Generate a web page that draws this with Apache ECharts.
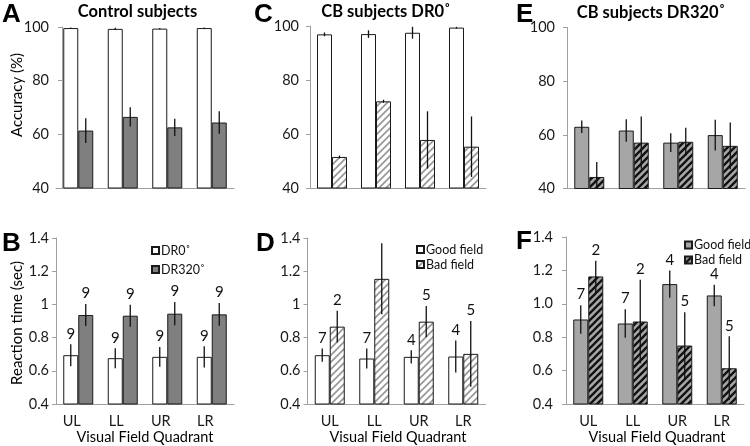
<!DOCTYPE html>
<html><head><meta charset="utf-8">
<script src="https://cdn.jsdelivr.net/npm/echarts@6/dist/echarts.min.js"></script>
<style>html,body{margin:0;padding:0;background:#fff}#c{width:750px;height:446px}</style>
</head><body><div id="c"></div><script>
// ---------- data ----------
const categories = ['UL', 'LL', 'UR', 'LR'];
// Panel A: control subjects accuracy (%)
const accCtrlDR0 = [99.6, 99.3, 99.4, 99.6];
const accCtrlDR0Err = [0.2, 0.4, 0.2, 0.2];
const accCtrlDR320 = [61.4, 66.5, 62.6, 64.4];
const accCtrlDR320Err = [4.6, 3.6, 3.2, 4.2];
// Panel C: CB subjects DR0 accuracy (%)
const accCbDR0Good = [96.9, 97.0, 97.5, 99.4];
const accCbDR0GoodErr = [0.7, 1.4, 2.2, 0.3];
const accCbDR0Bad = [51.5, 72.1, 57.8, 55.3];
const accCbDR0BadErr = [0.5, 0.6, 10.6, 11.2];
// Panel E: CB subjects DR320 accuracy (%)
const accCbDR320Good = [63.0, 61.6, 57.1, 59.9];
const accCbDR320GoodErr = [2.3, 4.2, 3.5, 5.7];
const accCbDR320Bad = [44.3, 57.1, 57.4, 55.9];
const accCbDR320BadErr = [5.6, 9.7, 5.2, 8.7];
// Panel B: control reaction time (sec)
const rtCtrlDR0 = [0.694, 0.676, 0.684, 0.684];
const rtCtrlDR0Err = [0.066, 0.06, 0.06, 0.064];
const rtCtrlDR320 = [0.936, 0.932, 0.944, 0.94];
const rtCtrlDR320Err = [0.066, 0.066, 0.07, 0.068];
const nCtrlDR0 = [9, 9, 9, 9];
const nCtrlDR320 = [9, 9, 9, 9];
// Panel D: CB DR0 reaction time (sec)
const rtCbDR0Good = [0.694, 0.674, 0.684, 0.686];
const rtCbDR0GoodErr = [0.04, 0.06, 0.04, 0.096];
const rtCbDR0Bad = [0.866, 1.154, 0.896, 0.702];
const rtCbDR0BadErr = [0.096, 0.214, 0.094, 0.198];
// Panel F: CB DR320 reaction time (sec)
const rtCbDR320Good = [0.906, 0.882, 1.118, 1.05];
const rtCbDR320GoodErr = [0.086, 0.086, 0.082, 0.064];
const rtCbDR320Bad = [1.164, 0.894, 0.75, 0.614];
const rtCbDR320BadErr = [0.094, 0.25, 0.2, 0.192];
const nCbGood = [7, 7, 4, 4];
const nCbBad = [2, 2, 5, 5];
const accTicks = [40, 100, 20];
const rtTicks = [0.4, 1.4, 0.2];

// ---------- styles ----------
const FONT = 'Lato';
function hatch(bg, fg, s, lw) {
  const c = document.createElement('canvas');
  c.width = s; c.height = s;
  const g = c.getContext('2d');
  g.fillStyle = bg; g.fillRect(0, 0, s, s);
  g.strokeStyle = fg; g.lineWidth = lw; g.lineCap = 'square';
  g.beginPath();
  g.moveTo(0, s); g.lineTo(s, 0);
  g.moveTo(-s / 2, s / 2); g.lineTo(s / 2, -s / 2);
  g.moveTo(s / 2, s * 1.5); g.lineTo(s * 1.5, s / 2);
  g.stroke();
  return c;
}
const WHITE = { color: '#ffffff', borderColor: '#1a1a1a', borderWidth: 1 };
const DARK = { color: '#7f7f7f', borderColor: '#1a1a1a', borderWidth: 1 };
const LIGHT = { color: '#a6a6a6', borderColor: '#1a1a1a', borderWidth: 1 };
const HATCH_LIGHT = { color: { image: hatch('#ffffff', '#9a9a9a', 7, 1.8), repeat: 'repeat' }, borderColor: '#1a1a1a', borderWidth: 1 };
const HATCH_DARK = { color: { image: hatch('#a6a6a6', '#111111', 7, 2.3), repeat: 'repeat' }, borderColor: '#1a1a1a', borderWidth: 1 };

const grids = [
  { left: 56, top: 27, width: 178, height: 161 },     // A
  { left: 310, top: 26, width: 176, height: 162 },    // C
  { left: 567, top: 27.5, width: 178, height: 161 },  // E
  { left: 56, top: 238, width: 178, height: 166 },    // B
  { left: 307.5, top: 238, width: 178, height: 166 }, // D
  { left: 566, top: 237, width: 178, height: 167 }    // F
];
const yOffsets = [-6, 0, 0, 0, 0, 0];
const yMargins = [13, 11, 12, 7, 7, 13];

const xAxes = grids.map((g, i) => ({
  type: 'category', gridIndex: i, data: categories,
  axisLine: { show: true, lineStyle: { color: '#a0a0a0', width: 1 } },
  axisTick: { show: false },
  axisLabel: {
    show: i >= 3, fontFamily: FONT, fontSize: 14.5, color: '#1a1a1a', margin: 10,
    padding: i === 3 ? [0, 13, 0, 0] : 0
  }
}));
function fmtRt(v) { return String(Math.round(v * 10) / 10); }
function fmtRtFixed(v) { return (Math.round(v * 10) / 10).toFixed(1); }
const yAxes = grids.map((g, i) => {
  const t = i < 3 ? accTicks : rtTicks;
  return {
    type: 'value', gridIndex: i, min: t[0], max: t[1], interval: t[2],
    offset: yOffsets[i],
    axisLine: { show: true, lineStyle: { color: '#a0a0a0', width: 1 } },
    axisTick: { show: true, length: 4, lineStyle: { color: '#a0a0a0' } },
    splitLine: { show: false },
    axisLabel: {
      fontFamily: FONT, fontSize: 14.5, color: '#1a1a1a', margin: yMargins[i],
      formatter: i < 3 ? (v => String(Math.round(v))) : (i === 5 ? fmtRtFixed : fmtRt)
    }
  };
});

function errSeries(gi, values, errs, off, counts) {
  return {
    type: 'custom', xAxisIndex: gi, yAxisIndex: gi, z: 5, clip: true, silent: true,
    data: values.map((v, k) => [k, v, errs[k], counts ? counts[k] : 0]),
    renderItem: function (params, api) {
      const k = api.value(0), v = api.value(1), e = api.value(2);
      const top = api.coord([k, v + e]);
      const bot = api.coord([k, v - e]);
      const x = top[0] + off;
      const children = [{
        type: 'line', shape: { x1: x, y1: top[1], x2: x, y2: bot[1] },
        style: { stroke: '#111', lineWidth: 1.3 }
      }];
      if (counts) {
        children.push({
          type: 'text', x: x, y: top[1] - 3,
          style: { text: String(api.value(3)), font: '15px ' + FONT, fill: '#111', align: 'center', verticalAlign: 'bottom', textAlign: 'center', textVerticalAlign: 'bottom' }
        });
      }
      return { type: 'group', children: children };
    }
  };
}
function barSeries(gi, name, values, style) {
  return {
    type: 'bar', name: name, xAxisIndex: gi, yAxisIndex: gi, data: values,
    barWidth: 15, barGap: '0%', itemStyle: style, silent: true, z: 2
  };
}
const series = [];
function panel(gi, n1, v1, e1, s1, n2, v2, e2, s2, c1, c2) {
  series.push(barSeries(gi, n1, v1, s1));
  series.push(barSeries(gi, n2, v2, s2));
  series.push(errSeries(gi, v1, e1, -7.5, c1));
  series.push(errSeries(gi, v2, e2, 7.5, c2));
}
panel(0, 'DR0˚', accCtrlDR0, accCtrlDR0Err, WHITE, 'DR320˚', accCtrlDR320, accCtrlDR320Err, DARK);
panel(1, 'Good field', accCbDR0Good, accCbDR0GoodErr, WHITE, 'Bad field', accCbDR0Bad, accCbDR0BadErr, HATCH_LIGHT);
panel(2, 'Good field|2', accCbDR320Good, accCbDR320GoodErr, LIGHT, 'Bad field|2', accCbDR320Bad, accCbDR320BadErr, HATCH_DARK);
panel(3, 'DR0˚', rtCtrlDR0, rtCtrlDR0Err, WHITE, 'DR320˚', rtCtrlDR320, rtCtrlDR320Err, DARK, nCtrlDR0, nCtrlDR320);
panel(4, 'Good field', rtCbDR0Good, rtCbDR0GoodErr, WHITE, 'Bad field', rtCbDR0Bad, rtCbDR0BadErr, HATCH_LIGHT, nCbGood, nCbBad);
panel(5, 'Good field|2', rtCbDR320Good, rtCbDR320GoodErr, LIGHT, 'Bad field|2', rtCbDR320Bad, rtCbDR320BadErr, HATCH_DARK, nCbGood, nCbBad);

function legend(names, left, top, gap) {
  return {
    data: names, left: left, top: top, orient: 'vertical', icon: 'rect',
    itemWidth: 7, itemHeight: 7, itemGap: gap, selectedMode: false, padding: 0,
    formatter: n => n.split('|')[0],
    textStyle: { fontFamily: FONT, fontSize: 12.5, color: '#111', padding: [0, 0, 0, -3] }
  };
}

function txt(x, y, s, font, rot) {
  return {
    type: 'text', x: x, y: y, rotation: rot || 0, silent: true,
    style: { text: s, font: font, fill: '#000', align: 'center', verticalAlign: 'middle', textAlign: 'center', textVerticalAlign: 'middle' }
  };
}
function letter(x, y, s) {
  return {
    type: 'text', x: x, y: y, silent: true,
    style: { text: s, font: 'bold 26px "Liberation Sans"', fill: '#000', align: 'left', verticalAlign: 'middle', textAlign: 'left', textVerticalAlign: 'middle' }
  };
}
const graphic = [
  letter(2, 15, 'A'), letter(254, 15, 'C'), letter(516, 15, 'E'),
  letter(2, 244, 'B'), letter(256, 244, 'D'), letter(516, 242, 'F'),
  txt(137.5, 12, 'Control subjects', 'bold 16.5px ' + FONT),
  txt(386, 12, 'CB subjects DR0˚', 'bold 16.5px ' + FONT),
  txt(651, 13, 'CB subjects DR320˚', 'bold 16.5px ' + FONT),
  txt(17, 95, 'Accuracy (%)', '15px ' + FONT, Math.PI / 2),
  txt(17, 323, 'Reaction time (sec)', '15px ' + FONT, Math.PI / 2),
  txt(145, 437, 'Visual Field Quadrant', '14.5px ' + FONT),
  txt(398, 437, 'Visual Field Quadrant', '14.5px ' + FONT),
  txt(657, 437, 'Visual Field Quadrant', '14.5px ' + FONT)
];

const chart = echarts.init(document.getElementById('c'), null, { renderer: 'canvas' });
chart.setOption({
  animation: false,
  backgroundColor: '#ffffff',
  grid: grids,
  xAxis: xAxes,
  yAxis: yAxes,
  legend: [
    legend(['DR0˚', 'DR320˚'], 151, 244, 6),
    legend(['Good field', 'Bad field'], 416, 243, 2),
    legend(['Good field|2', 'Bad field|2'], 684, 238.5, 2)
  ],
  graphic: graphic,
  series: series
});
</script></body></html>
